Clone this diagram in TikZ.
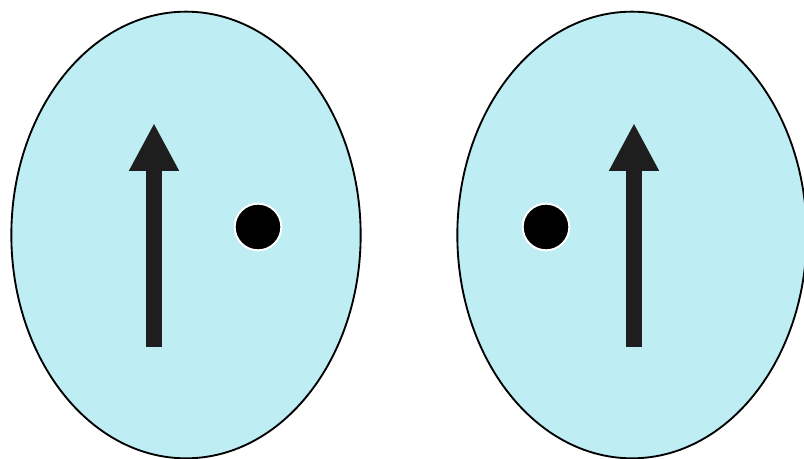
\documentclass[tikz,border=0pt]{standalone}
\usepackage{xcolor}
\usepackage{tikz}
\usetikzlibrary{arrows.meta,shapes.geometric}
\definecolor{cell}{HTML}{BEEDF4}
\definecolor{spin}{HTML}{1E1E1E}

\begin{document}
\begin{tikzpicture}[x=0.75pt,y=-0.75pt,
   orb/.style={ellipse,draw=black,fill=cell,line width=1.4pt,
      minimum width=262pt,minimum height=335pt,inner sep=0pt},
   dot/.style={circle,fill=black,draw=white,line width=1.5pt,
      minimum size=35pt,inner sep=0pt},
   spinarrow/.style={draw=spin,line width=12pt,
      -{Triangle[length=36pt,width=35pt]}}]
  \useasboundingbox (0,0) rectangle (804,459);
  \clip (0,0) rectangle (804,459);
  % two orbitals
  \node[orb] (oL) at (186,235) {};
  \node[orb] (oR) at (632,235) {};
  % spins
  \coordinate (sL0) at (154,347); \coordinate (sL1) at (154,123);
  \coordinate (sR0) at (634,347); \coordinate (sR1) at (634,123);
  \draw[spinarrow] (sL0) -- (sL1);
  \draw[spinarrow] (sR0) -- (sR1);
  % electrons
  \node[dot] (eL) at (258,227) {};
  \node[dot] (eR) at (546,227) {};
\end{tikzpicture}
\end{document}
